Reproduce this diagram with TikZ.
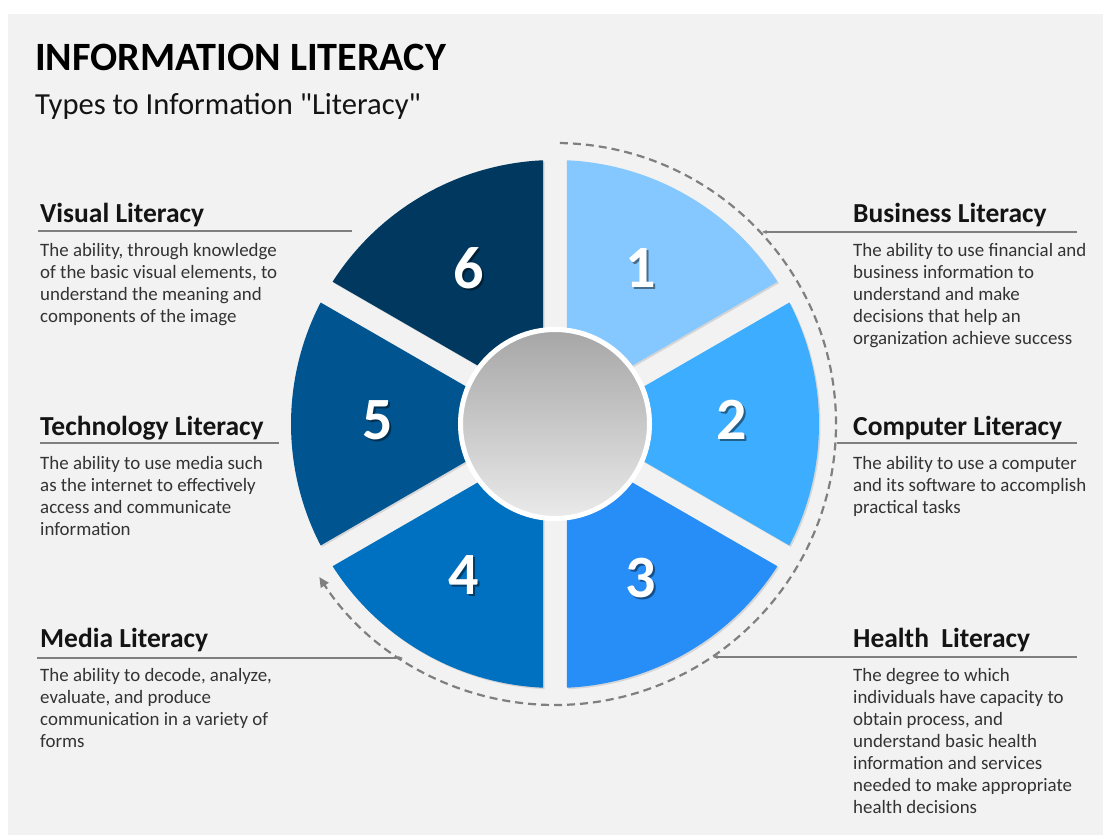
\documentclass[tikz,border=0pt]{standalone}
\usepackage{fontspec}
\setmainfont{Carlito}
\usepackage{tikz}
\usetikzlibrary{arrows.meta}
\usetikzlibrary{shadows}
\definecolor{paper}{HTML}{F2F2F2}
\definecolor{rulegray}{HTML}{7F7F7F}
\definecolor{headcol}{HTML}{141414}
\definecolor{bodycol}{HTML}{333333}
\definecolor{secA}{HTML}{85C8FF}
\definecolor{secB}{HTML}{3DAEFF}
\definecolor{secC}{HTML}{278EF8}
\definecolor{secD}{HTML}{0070C0}
\definecolor{secE}{HTML}{005591}
\definecolor{secF}{HTML}{003860}
\newcommand{\sectorpart}[2]{\fill[sector,#2] (#1-30:24) -- (#1-2.6:264) arc[start angle=#1-2.6, end angle=#1-57.4, radius=264] -- cycle;}
\newcommand{\shadenum}[2]{\makebox[0pt][l]{\hspace{2pt}\raisebox{-2pt}{\textcolor{#2!55!black}{#1}}}\textcolor{white}{#1}}
\newcommand{\sectornum}[4]{\node(#1)[num] at (#2:177) {\shadenum{#3}{#4}}}

\begin{document}
\begin{tikzpicture}[
        x=1pt, y=1pt,
        sector/.style={drop shadow={shadow xshift=1.5pt, shadow yshift=-1.5pt, opacity=0.25}},
        num/.style={font=\fontsize{60}{62}\selectfont\bfseries, inner sep=0pt},
        hub/.style={circle, minimum size=189pt, draw=white, line width=5pt,
                    top color=black!35, bottom color=black!8,
                    drop shadow={shadow xshift=1pt, shadow yshift=-1.5pt, opacity=0.3}},
        head/.style={anchor=base west, inner sep=0pt, text=headcol,
                     font=\fontsize{27.5}{31}\selectfont\bfseries},
        % multi-line nodes sit on the baseline of their last line
        body/.style={anchor=base west, inner sep=0pt, align=left, text=bodycol,
                     font=\fontsize{18.9}{22}\selectfont},
        rule/.style={draw=rulegray, line width=2pt},
        cycle arrow/.style={draw=rulegray, line width=2.2pt, dash pattern=on 8pt off 5pt,
                            -{Triangle[length=10pt, width=9pt]}}
      ]
      \useasboundingbox (0,0) rectangle (1103,837);
      \fill[white] (0,0) rectangle (1103,837);
      \fill[paper] (8,2) rectangle (1103,823);

      % Title and subtitle
      \node (title) [anchor=base west, inner sep=0pt, text=black,
                     font=\fontsize{40.2}{44}\selectfont\bfseries] at (35,766) {INFORMATION LITERACY};
      \node (subtitle) [anchor=base west, inner sep=0pt, text=headcol,
                        font=\fontsize{30.6}{36}\selectfont] at (35,722) {Types to Information \textquotedbl Literacy\textquotedbl};

      % The wheel: six sectors round a hub, numbered clockwise from the top
      \begin{scope}[shift={(555,413)}]
        \sectorpart{90}{secA};
        \sectorpart{30}{secB};
        \sectorpart{-30}{secC};
        \sectorpart{-90}{secD};
        \sectorpart{210}{secE};
        \sectorpart{150}{secF};

        % Dashed arrow running round the wheel
        \draw[cycle arrow] (89:281) arc[start angle=89, end angle=-147, radius=281];

        \node (hub) [hub] at (0,0) {};

        \sectornum{n1}{61}{1}{secA};
        \sectornum{n2}{1}{2}{secB};
        \sectornum{n3}{-61}{3}{secC};
        \sectornum{n4}{-121}{4}{secD};
        \sectornum{n5}{179}{5}{secE};
        \sectornum{n6}{119}{6}{secF};
      \end{scope}

      % Right column
      \node (business) [head] at (853,614) {Business Literacy};
      \node (businesstext) [body] at (853,492) {The ability to use financial and\\business information to\\understand and make\\decisions that help an\\organization achieve success};
      \node (computer) [head] at (853,401) {Computer Literacy};
      \node (computertext) [body] at (853,323) {The ability to use a computer\\and its software to accomplish\\practical tasks};
      \node (health) [head] at (853,189) {Health\ \ Literacy};
      \node (healthtext) [body] at (853,23) {The degree to which\\individuals have capacity to\\obtain process, and\\understand basic health\\information and services\\needed to make appropriate\\health decisions};

      % Left column
      \node (visual) [head] at (40,614) {Visual Literacy};
      \node (visualtext) [body] at (40,514) {The ability, through knowledge\\of the basic visual elements, to\\understand the meaning and\\components of the image};
      \node (technology) [head] at (40,401) {Technology Literacy};
      \node (technologytext) [body] at (40,301) {The ability to use media such\\as the internet to effectively\\access and communicate\\information};
      \node (media) [head] at (40,189) {Media Literacy};
      \node (mediatext) [body] at (40,89) {The ability to decode, analyze,\\evaluate, and produce\\communication in a variety of\\forms};

      % Underlines, pointing at the wheel
      \coordinate (businessL) at (762,605);  \coordinate (businessR) at (1077,605);
      \coordinate (computerL) at (837,394);  \coordinate (computerR) at (1077,394);
      \coordinate (healthL) at (713,180);    \coordinate (healthR) at (1077,180);
      \coordinate (visualL) at (38,606);     \coordinate (visualR) at (352,606);
      \coordinate (technologyL) at (40,394); \coordinate (technologyR) at (279,394);
      \coordinate (mediaL) at (37,179);      \coordinate (mediaR) at (403,179);

      \draw[rule, -{Stealth[length=5pt, width=4pt]}] (businessR) -- (businessL);
      \draw[rule] (computerR) -- (computerL);
      \draw[rule, -{Stealth[length=5pt, width=4pt]}] (healthR) -- (healthL);
      \draw[rule] (visualL) -- (visualR);
      \draw[rule] (technologyL) -- (technologyR);
      \draw[rule, -{Stealth[length=5pt, width=4pt]}] (mediaL) -- (mediaR);
    \end{tikzpicture}
\end{document}
